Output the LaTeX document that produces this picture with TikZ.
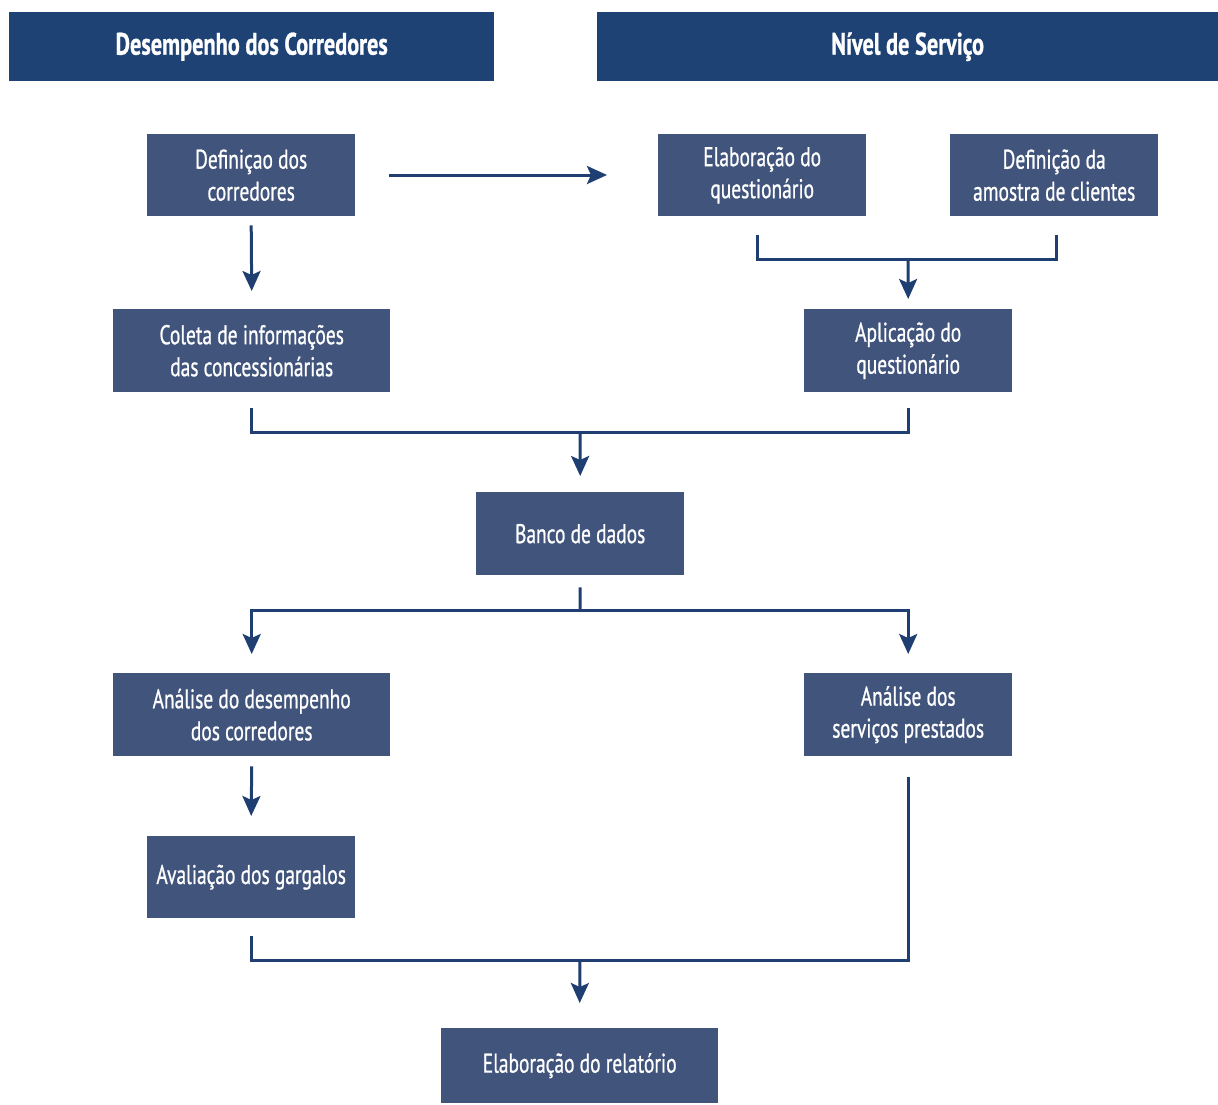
\documentclass[tikz,border=0pt]{standalone}
\usepackage{fontspec}
\setmainfont{PT Sans}[FakeStretch=0.72,FakeBold=0.8]
\usetikzlibrary{arrows.meta}
\definecolor{headblue}{HTML}{1F4275}
\definecolor{boxblue}{HTML}{41547C}
\definecolor{lineblue}{HTML}{1F3F73}
\tikzset{
  x=1pt,y=-1pt,
  hdr/.style={fill=headblue,draw=none,text=white,font=\fontsize{31}{34}\selectfont\bfseries,anchor=north west,inner sep=0pt,align=center},
  bx/.style={fill=boxblue,draw=none,text=white,font=\fontsize{27}{32}\selectfont,anchor=north west,inner sep=0pt,align=center},
  conn/.style={draw=lineblue,line width=3pt},
  arr/.style={conn,-{Stealth[length=20pt,width=18pt,inset=4pt]}},
}
\newcommand{\bxnode}[6]{\node[bx,minimum width=#4-#2,minimum height=#5-#3] (#1) at (#2,#3) {#6};}
\begin{document}
\begin{tikzpicture}
\useasboundingbox (0,0) rectangle (1218,1104);
\node[hdr,minimum width=485,minimum height=69] (h1) at (9,12) {Desempenho dos Corredores};
\node[hdr,minimum width=621,minimum height=69] (h2) at (597,12) {Nível de Serviço};
\bxnode{def}{147}{134}{355}{216}{Definiçao dos\\corredores}
\bxnode{elab}{658}{134}{866}{216}{Elaboração do\\questionário}
\bxnode{amos}{950}{134}{1158}{216}{Definição da\\amostra de clientes}
\bxnode{col}{113}{309}{390}{392}{Coleta de informações\\das concessionárias}
\bxnode{apl}{804}{309}{1012}{392}{Aplicação do\\questionário}
\bxnode{banco}{476}{492}{684}{575}{Banco de dados}
\bxnode{anad}{113}{673}{390}{756}{Análise do desempenho\\dos corredores}
\bxnode{anas}{804}{673}{1012}{756}{Análise dos\\serviços prestados}
\bxnode{aval}{147}{836}{355}{918}{Avaliação dos gargalos}
\bxnode{rel}{441}{1028}{718}{1103}{Elaboração do relatório}
% connectors
\coordinate (a1s) at (389,175); \coordinate (a1e) at (607,175);
\draw[arr] (a1s) -- (a1e);
\draw[arr] ([yshift=-9]def.south) -- ([yshift=18]col.north);
% bracket to aplicacao
\coordinate (j1) at (908,259);
\draw[conn] ([xshift=-5,yshift=-19]elab.south) |- (j1) -| ([xshift=2,yshift=-19]amos.south);
\draw[arr] (j1) -- ([yshift=10]apl.north);
% bracket to banco
\coordinate (j2) at (580,432);
\draw[conn] ([yshift=-16]col.south) |- (j2) -| ([yshift=-16]apl.south);
\draw[arr] (j2) -- ([yshift=16]banco.north);
% split from banco
\coordinate (j3) at (580,610);
\draw[conn] ([yshift=-12]banco.south) -- (j3);
\draw[arr] (j3) -| ([yshift=19]anad.north);
\draw[arr] (j3) -| ([yshift=19]anas.north);
\draw[arr] ([yshift=-10]anad.south) -- ([yshift=20]aval.north);
% merge to relatorio
\coordinate (j4) at (580,960);
\draw[conn] ([yshift=-18]aval.south) |- (j4) -| ([yshift=-21]anas.south);
\draw[arr] (j4) -- ([yshift=25]rel.north);
\end{tikzpicture}
\end{document}
